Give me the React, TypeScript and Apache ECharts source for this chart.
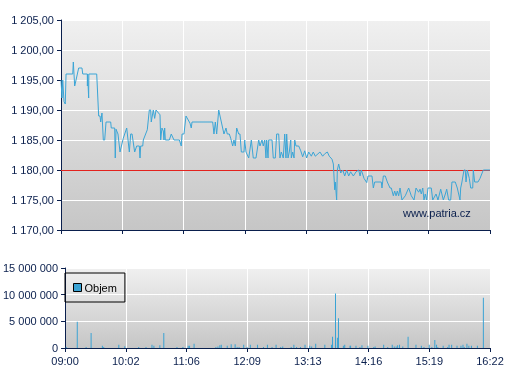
import React, { useEffect, useRef } from "react";
import * as echarts from "echarts";

const timeLabels = ["09:00", "10:02", "11:06", "12:09", "13:13", "14:16", "15:19", "16:22"];
const sessionMinutes = 442;
const referencePrice = 1180;

const priceMinutes = [
  0, 1.0, 1.8, 3.1, 4.4, 5.2, 12.1, 12.7, 14.1, 15.5, 18.2, 21.6, 22.4, 27.1, 27.2, 27.4, 28.5, 28.7, 36.8,
  38.8, 40.2, 40.9, 42.2, 43.6, 45.0, 46.4, 51.2, 51.8, 55.3, 55.9, 56.7, 58.7, 60.8, 64.2, 67.7, 70.4, 71.8, 73.2,
  75.9, 78.0, 80.7, 81.4, 82.1, 84.2, 84.8, 88.9, 91.0, 92.4, 93.0, 95.1, 96.5, 97.9, 102.0, 102.7, 104.0, 105.4,
  106.1, 106.8, 107.5, 111.6, 113.6, 116.4, 121.9, 123.9, 124.7, 126.7, 128.8, 132.9, 134.2, 135.0, 156.3,
  157.6, 159.0, 160.4, 162.5, 165.2, 167.9, 170.0, 171.3, 173.4, 174.8, 176.9, 178.2, 179.6, 181.0, 183.1, 184.4,
  185.8, 188.5, 189.3, 190.6, 193.4, 196.1, 198.1, 200.9, 203.7, 205.0, 207.1, 208.4, 209.9, 211.2, 211.9, 213.3,
  214.0, 217.4, 218.7, 220.8, 222.2, 224.3, 225.6, 227.0, 229.0, 230.5, 231.8, 232.5, 233.9, 235.2, 236.7, 237.3,
  238.7, 240.1, 240.8, 242.1, 244.9, 247.0, 249.0, 251.1, 253.1, 255.2, 257.9, 259.9, 262.0, 264.8, 266.8, 269.6,
  271.7, 274.4, 276.4, 279.2, 280.6, 282.0, 282.6, 284.0, 284.7, 286.1, 288.2, 290.3, 292.3, 294.4, 296.4, 298.4,
  301.2, 304.0, 306.7, 308.1, 309.4, 312.2, 315.0, 316.3, 320.4, 321.8, 323.2, 330.0, 330.7, 332.1, 334.1, 336.2,
  339.0, 340.3, 342.4, 343.8, 345.2, 346.5, 347.9, 349.3, 351.3, 354.7, 358.2, 360.9, 363.7, 365.8, 368.5, 369.9,
  371.2, 372.7, 374.0, 375.3, 376.8, 378.1, 381.5, 383.0, 386.4, 388.4, 391.2, 393.9, 396.0, 397.4, 399.4, 401.5,
  402.8, 406.2, 408.3, 409.7, 411.1, 411.8, 413.1, 415.2, 416.5, 417.3, 418.6, 420.7, 422.1, 424.2, 424.8, 426.2,
  429.6, 431.7, 435.1, 442,
];
const priceValues = [
  1195, 1192, 1195, 1191.4, 1191, 1196, 1196, 1198, 1194, 1195, 1197, 1197, 1196, 1196, 1194, 1196, 1192, 1196, 1196,
  1189, 1189, 1188, 1189.5, 1185, 1185, 1188, 1188, 1187, 1187, 1182, 1186.8, 1186, 1183, 1185.3, 1187, 1183, 1186, 1186,
  1183, 1184, 1184, 1182, 1184, 1184, 1185, 1186.7, 1190, 1190, 1188, 1190, 1188.6, 1190, 1189.2, 1185, 1187, 1186.5,
  1185, 1187, 1185, 1185, 1186, 1185, 1185, 1184, 1186, 1186, 1189, 1187.8, 1187, 1188, 1188,
  1186, 1188, 1186, 1190, 1188, 1186, 1187, 1186, 1186, 1185.3, 1184, 1185, 1184, 1187, 1186, 1186,
  1183, 1183, 1185, 1183, 1182, 1185, 1182, 1182, 1185, 1184, 1185, 1184, 1185, 1182, 1185, 1182,
  1185, 1185, 1182, 1182, 1186, 1186, 1182, 1183, 1182, 1186, 1182, 1186, 1182, 1183, 1185, 1182,
  1183, 1182, 1185, 1184, 1184, 1183.2, 1182.2, 1183.2, 1182, 1183, 1182.3, 1183, 1182.3, 1182.7, 1183, 1182.3,
  1182.7, 1183, 1182.3, 1181.8, 1181, 1176.7, 1178, 1175, 1180, 1181, 1179.5, 1180, 1179, 1180, 1179, 1179.7,
  1179, 1179.7, 1180, 1179, 1180, 1178.6, 1177.9, 1179, 1179, 1177, 1178, 1178, 1177, 1179, 1179, 1178,
  1177, 1177, 1175.7, 1176.5, 1175.7, 1176.5, 1175.7, 1177, 1175, 1175.7, 1177, 1175.7, 1175, 1177, 1176.3, 1176.8,
  1176, 1177, 1175, 1176, 1175, 1177, 1177, 1175, 1176, 1175, 1176.8, 1175, 1176, 1176.8, 1175, 1175,
  1178, 1178, 1177, 1176, 1175, 1177, 1178, 1180, 1180, 1178, 1180, 1178.6, 1177, 1177, 1180, 1178,
  1178, 1178.6, 1180, 1180,
];

const volumeMinutes = [
  1.3, 12.7, 21.9, 27.1, 38.8, 40.2, 55.9, 62.1, 76.6, 84.2, 90.4, 92.4, 98.6, 102.7, 116.4, 122.6, 128.1, 129.5,
  134.2, 156.9, 159.0, 161.0, 162.5, 168.7, 172.8, 176.9, 179.0, 181.0, 185.8, 189.3, 192.7, 200.2, 206.4, 210.5,
  215.3, 219.5, 224.3, 226.4, 235.2, 238.0, 240.8, 244.9, 249.6, 254.5, 256.5, 260.7, 270.2, 277.1, 278.2, 281.3,
  283.3, 284.4, 289.5, 290.9, 296.4, 297.0, 302.6, 306.7, 308.8, 315.0, 321.1, 322.5, 331.4, 335.6, 340.3, 342.4,
  344.4, 345.9, 347.9, 351.3, 356.8, 365.0, 370.6, 373.3, 378.8, 381.5, 384.6, 386.4, 387.7, 393.3, 398.0, 399.4,
  402.1, 407.7, 411.8, 413.9, 415.2, 418.0, 420.0, 422.7, 428.9, 435.1,
];
const volumeValues = [
  200000, 4900000, 200000, 2800000, 400000, 200000, 600000, 350000, 200000, 200000, 600000, 400000, 500000, 2800000,
  200000, 200000, 400000, 400000, 800000, 200000, 300000, 500000, 600000, 400000, 700000, 700000, 200000, 200000,
  600000, 200000, 600000, 600000, 200000, 600000, 200000, 600000, 200000, 300000, 200000, 600000, 200000, 200000,
  600000, 400000, 300000, 800000, 600000, 600000, 2100000, 10200000, 1900000, 5600000, 400000, 600000, 400000,
  400000, 400000, 200000, 500000, 400000, 200000, 300000, 600000, 200000, 600000, 300000, 300000, 500000, 600000,
  300000, 2100000, 600000, 400000, 200000, 600000, 200000, 1500000, 600000, 200000, 400000, 200000, 600000, 600000,
  400000, 400000, 600000, 200000, 800000, 400000, 400000, 400000, 9400000,
];

const slot = sessionMinutes / (timeLabels.length - 1);
const navy = "#0a1f4d";

function groupNum(v: number, dec: number): string {
  const parts = v.toFixed(dec).split(".");
  const g = parts[0].replace(/\B(?=(\d{3})+(?!\d))/g, " ");
  return parts[1] ? g + "," + parts[1] : g;
}

export default function App() {
  const ref = useRef<HTMLDivElement>(null);
  useEffect(() => {
    if (!ref.current) return;
    const chart = echarts.init(ref.current, null, { renderer: "svg" });
    const bg = () =>
      new echarts.graphic.LinearGradient(0, 0, 0, 1, [
        { offset: 0, color: "#f0f0f0" },
        { offset: 1, color: "#c6c6c6" },
      ]);
    const xAxisBase = {
      type: "value",
      min: 0,
      max: timeLabels.length - 1,
      interval: 1,
      axisLine: { show: true, lineStyle: { color: navy, width: 1 } },
      axisTick: { show: true, inside: false, length: 4, lineStyle: { color: navy } },
      splitLine: { show: true, lineStyle: { color: "#ffffff", width: 1 } },
    };
    const yAxisBase = {
      type: "value",
      position: "left",
      axisLine: { show: true, lineStyle: { color: navy, width: 1 } },
      axisTick: { show: true, inside: false, length: 4, lineStyle: { color: navy } },
      splitLine: { show: true, lineStyle: { color: "#ffffff", width: 1 } },
      axisLabel: { color: navy, fontSize: 11, fontFamily: "Liberation Sans, Arial, sans-serif", margin: 7 },
    };
    chart.setOption({
      animation: false,
      grid: [
        { left: 61, top: 20, width: 429, height: 210, show: true, backgroundColor: bg(), borderWidth: 0 },
        { left: 61, top: 268, width: 429, height: 80, show: true, backgroundColor: bg(), borderWidth: 0 },
      ],
      xAxis: [
        { ...xAxisBase, gridIndex: 0, axisLabel: { show: false } },
        {
          ...xAxisBase,
          gridIndex: 1,
          axisLabel: {
            show: true,
            color: navy,
            fontSize: 11,
            fontFamily: "Liberation Sans, Arial, sans-serif",
            margin: 7,
            formatter: (v: number) => timeLabels[Math.round(v)] ?? "",
          },
        },
      ],
      yAxis: [
        {
          ...yAxisBase,
          gridIndex: 0,
          min: 1170,
          max: 1205,
          interval: 5,
          axisLabel: { ...yAxisBase.axisLabel, formatter: (v: number) => groupNum(v, 2) },
        },
        {
          ...yAxisBase,
          gridIndex: 1,
          min: 0,
          max: 15000000,
          interval: 5000000,
          axisLabel: { ...yAxisBase.axisLabel, formatter: (v: number) => groupNum(v, 0) },
        },
      ],
      legend: {
        show: true,
        left: 65,
        top: 273,
        orient: "vertical",
        padding: [9, 8],
        borderColor: "#000",
        borderWidth: 1,
        borderRadius: 0,
        backgroundColor: "transparent",
        icon: "rect",
        itemWidth: 8,
        itemHeight: 8,
        itemGap: 0,
        textStyle: { color: "#000", fontSize: 11, fontFamily: "Liberation Sans, Arial, sans-serif", padding: [0, 0, 0, -2] },
        data: [{ name: "Objem", itemStyle: { color: "#3aa3d4", borderColor: "#000", borderWidth: 1 } }],
      },
      graphic: [
        {
          type: "text",
          left: 403,
          top: 207,
          style: {
            text: "www.patria.cz",
            fill: navy,
            font: "11px Liberation Sans, Arial, sans-serif",
          },
          z: 100,
        },
      ],
      series: [
        {
          name: "Cena",
          type: "line",
          xAxisIndex: 0,
          yAxisIndex: 0,
          showSymbol: false,
          symbol: "none",
          lineStyle: { color: "#3ba5d6", width: 1 },
          data: priceMinutes.map((m, i) => [m / slot, priceValues[i]]),
          markLine: {
            silent: true,
            symbol: ["none", "none"],
            label: { show: false },
            lineStyle: { color: "#e3231e", width: 1, type: "solid" },
            data: [{ yAxis: referencePrice }],
          },
          z: 5,
        },
        {
          name: "Objem",
          type: "bar",
          xAxisIndex: 1,
          yAxisIndex: 1,
          barWidth: 1,
          itemStyle: { color: "#3aa3d4" },
          data: volumeMinutes.map((m, i) => [m / slot, volumeValues[i]]),
        },
      ],
    });
    return () => chart.dispose();
  }, []);
  return <div ref={ref} style={{ position: "fixed", left: 0, top: 0, width: 507, height: 380 }} />;
}
